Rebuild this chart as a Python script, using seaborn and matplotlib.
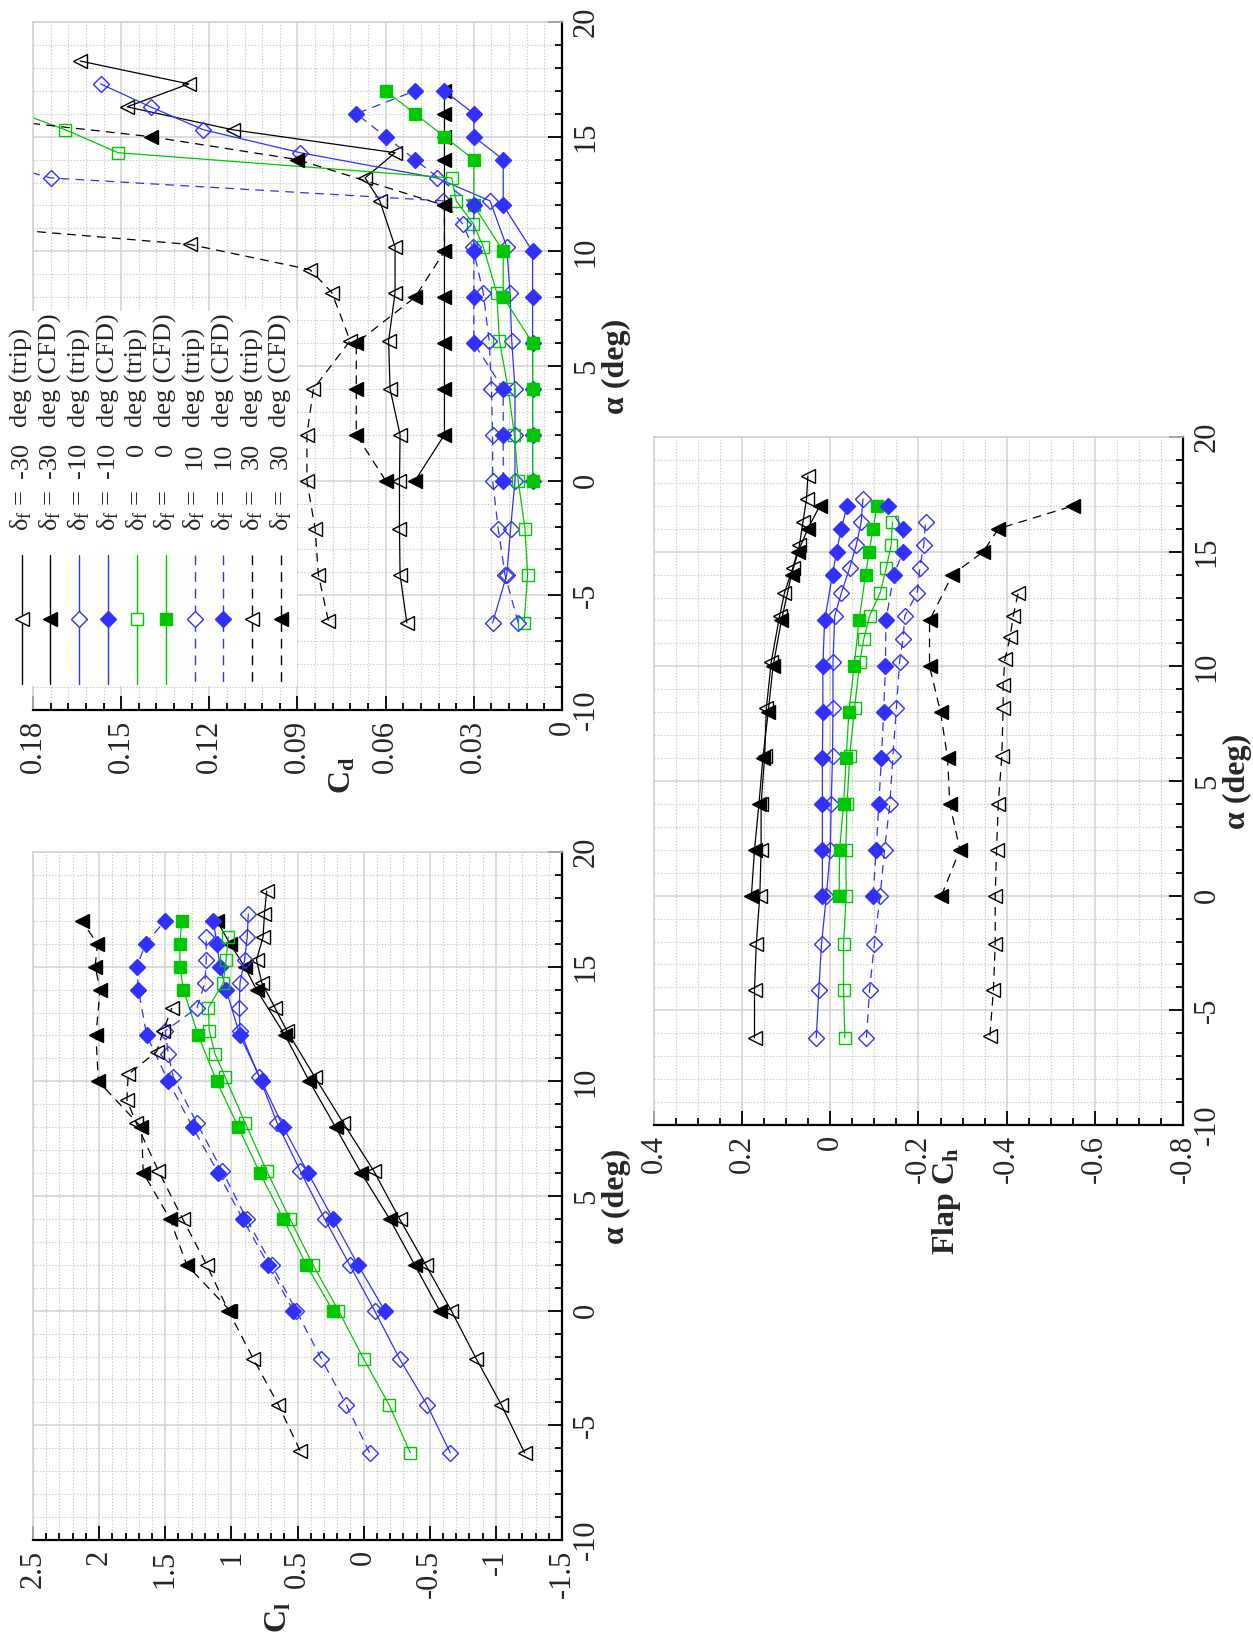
"""Rotated three-panel chart: lift, drag and flap hinge moment vs angle of attack."""

import matplotlib
matplotlib.use("Agg")
import matplotlib.pyplot as plt
import numpy as np
import seaborn as sns
from matplotlib.lines import Line2D
from matplotlib.patches import Rectangle

sns.set_theme(style="white")
plt.rcParams["font.family"] = ["Liberation Serif", "DejaVu Serif"]
plt.rcParams["mathtext.fontset"] = "custom"
plt.rcParams["mathtext.rm"] = "Liberation Serif"
plt.rcParams["mathtext.bf"] = "Liberation Serif:bold"
plt.rcParams["mathtext.it"] = "Liberation Serif:italic"
plt.rcParams["axes.unicode_minus"] = False

W, H = 1253, 1637

# ---- data -------------------------------------------------------------
alpha_cfd = [0, 2, 4, 6, 8, 10, 12, 14, 15, 16, 17]

cl_m30_cfd = [-0.575, -0.386, -0.197, 0.018, 0.212, 0.41, 0.594, 0.81, 0.90, 1.01, 1.11]
cd_m30_cfd = [0.05, 0.04, 0.04, 0.04, 0.04, 0.04, 0.04, 0.04, 0.04, 0.04, 0.04]
ch_m30_cfd = [0.179, 0.172, 0.162, 0.153, 0.141, 0.13, 0.111, 0.088, 0.073, 0.051, 0.024]

cl_m10_cfd = [-0.159, 0.043, 0.232, 0.42, 0.607, 0.771, 0.935, 1.04, 1.086, 1.11, 1.136]
cd_m10_cfd = [0.01, 0.01, 0.01, 0.01, 0.01, 0.01, 0.02, 0.02, 0.03, 0.03, 0.04]
ch_m10_cfd = [0.018, 0.018, 0.018, 0.018, 0.017, 0.017, 0.013, -0.005, -0.014, -0.025, -0.038]

cl_0_cfd = [0.232, 0.434, 0.607, 0.784, 0.947, 1.111, 1.25, 1.363, 1.389, 1.389, 1.376]
cd_0_cfd = [0.01, 0.01, 0.01, 0.01, 0.02, 0.02, 0.03, 0.03, 0.04, 0.05, 0.06]
ch_0_cfd = [-0.02, -0.021, -0.03, -0.036, -0.042, -0.054, -0.065, -0.08, -0.088, -0.097, -0.106]

cl_p10_cfd = [0.532, 0.72, 0.915, 1.099, 1.293, 1.477, 1.64, 1.703, 1.716, 1.648, 1.502]
cd_p10_cfd = [0.02, 0.02, 0.02, 0.03, 0.03, 0.03, 0.03, 0.05, 0.06, 0.07, 0.05]
ch_p10_cfd = [-0.097, -0.104, -0.11, -0.116, -0.121, -0.125, -0.126, -0.144, -0.165, -0.165, -0.131]

cl_p30_cfd = [1.01, 1.338, 1.464, 1.666, 1.68, 2.006, 2.024, 1.993, 2.03, 2.013, 2.132]
cd_p30_cfd = [0.06, 0.07, 0.07, 0.07, 0.05, 0.04, 0.04, 0.09, 0.14, 0.21, 0.25]
ch_p30_cfd = [-0.252, -0.294, -0.271, -0.266, -0.25, -0.225, -0.225, -0.277, -0.347, -0.381, -0.551]

alpha_m30_trip = [-6.2, -4.1, -2.1, 0, 2, 4, 6.1, 8.2, 10.2, 12.2, 13.2, 14.3, 15.3, 16.3, 17.3, 18.3]
cl_m30_trip = [-1.217, -1.041, -0.852, -0.663, -0.469, -0.272, -0.076, 0.156, 0.37, 0.58,
               0.67, 0.77, 0.81, 0.76, 0.75, 0.733]
cd_m30_trip = [0.0528, 0.0551, 0.0553, 0.0553, 0.0551, 0.0585, 0.059, 0.0568, 0.0568, 0.062,
               0.067, 0.0568, 0.112, 0.148, 0.127, 0.164]
ch_m30_trip = [0.172, 0.172, 0.168, 0.160, 0.157, 0.157, 0.149, 0.145, 0.134, 0.115,
               0.104, 0.085, 0.07, 0.062, 0.054, 0.051]

alpha_m10_trip = [-6.2, -4.1, -2.1, 0, 2, 4, 6.1, 8.2, 10.2, 12.2, 13.2, 14.3, 15.3, 16.3, 17.3]
cl_m10_trip = [-0.655, -0.479, -0.272, -0.083, 0.106, 0.295, 0.48, 0.655, 0.79, 0.935,
               0.94, 0.935, 0.90, 0.88, 0.872]
cd_m10_trip = [0.0236, 0.0188, 0.0175, 0.016, 0.016, 0.016, 0.0171, 0.0177, 0.0188, 0.0245,
               0.0426, 0.089, 0.122, 0.14, 0.157]
ch_m10_trip = [0.032, 0.026, 0.020, 0.009, 0.0, -0.002, -0.005, -0.006, -0.006, -0.01,
               -0.025, -0.044, -0.059, -0.07, -0.074]

alpha_0_trip = [-6.2, -4.1, -2.1, 0, 2, 4, 6.1, 8.2, 10.2, 11.2, 12.2, 13.2, 14.3, 15.3, 16.3]
cl_0_trip = [-0.353, -0.192, 0.0, 0.19, 0.383, 0.557, 0.733, 0.897, 1.048, 1.124,
             1.167, 1.174, 1.061, 1.04, 1.023]
cd_0_trip = [0.0129, 0.0117, 0.0126, 0.0149, 0.0162, 0.0183, 0.0213, 0.0222, 0.0268, 0.0302,
             0.036, 0.0375, 0.151, 0.169, 0.19]
ch_0_trip = [-0.033, -0.03, -0.03, -0.036, -0.035, -0.038, -0.044, -0.055, -0.067, -0.076,
             -0.089, -0.113, -0.127, -0.138, -0.141]

alpha_p10_trip = [-6.2, -4.1, -2.1, 0, 2, 4, 6.1, 8.2, 10.2, 11.2, 12.2, 13.2, 14.3, 15.3, 16.3]
cl_p10_trip = [-0.045, 0.131, 0.32, 0.51, 0.695, 0.885, 1.07, 1.263, 1.44, 1.477,
               1.50, 1.26, 1.20, 1.19, 1.19]
cd_p10_trip = [0.0149, 0.0194, 0.0217, 0.0236, 0.0236, 0.024, 0.0248, 0.0268, 0.0304, 0.0338,
               0.0404, 0.174, 0.205, 0.23, 0.25]
ch_p10_trip = [-0.082, -0.089, -0.1, -0.113, -0.123, -0.135, -0.142, -0.15, -0.157, -0.165,
               -0.169, -0.197, -0.203, -0.212, -0.216]

alpha_p30_trip = [-6.1, -4.1, -2.1, 0, 2, 4, 6.1, 8.2, 9.2, 10.3, 11.3, 12.2, 13.2]
cl_p30_trip = [0.481, 0.645, 0.834, 1.023, 1.187, 1.368, 1.552, 1.721, 1.79, 1.78, 1.565, 1.515, 1.45]
cd_p30_trip = [0.0795, 0.0829, 0.084, 0.0868, 0.0868, 0.0846, 0.0721, 0.0783, 0.0857, 0.1266,
               0.22, 0.25, 0.27]
ch_p30_trip = [-0.362, -0.37, -0.374, -0.374, -0.377, -0.381, -0.389, -0.392, -0.392, -0.396,
               -0.408, -0.415, -0.426]

legend_values = ["-30", "-30", "-10", "-10", "0", "0", "10", "10", "30", "30"]
legend_kinds = ["trip", "CFD"] * 5

# ---- styles -----------------------------------------------------------
BLACK, BLUE, GREEN = "#000000", "#3030FF", "#00C800"
DASH = (0, (7, 5))

series = [
    dict(alpha=alpha_m30_trip, cl=cl_m30_trip, cd=cd_m30_trip, ch=ch_m30_trip,
         color=BLACK, ls="-", marker="<", fill=False),
    dict(alpha=alpha_cfd, cl=cl_m30_cfd, cd=cd_m30_cfd, ch=ch_m30_cfd,
         color=BLACK, ls="-", marker="<", fill=True),
    dict(alpha=alpha_m10_trip, cl=cl_m10_trip, cd=cd_m10_trip, ch=ch_m10_trip,
         color=BLUE, ls="-", marker="D", fill=False),
    dict(alpha=alpha_cfd, cl=cl_m10_cfd, cd=cd_m10_cfd, ch=ch_m10_cfd,
         color=BLUE, ls="-", marker="D", fill=True),
    dict(alpha=alpha_0_trip, cl=cl_0_trip, cd=cd_0_trip, ch=ch_0_trip,
         color=GREEN, ls="-", marker="s", fill=False),
    dict(alpha=alpha_cfd, cl=cl_0_cfd, cd=cd_0_cfd, ch=ch_0_cfd,
         color=GREEN, ls="-", marker="s", fill=True),
    dict(alpha=alpha_p10_trip, cl=cl_p10_trip, cd=cd_p10_trip, ch=ch_p10_trip,
         color=BLUE, ls=DASH, marker="D", fill=False),
    dict(alpha=alpha_cfd, cl=cl_p10_cfd, cd=cd_p10_cfd, ch=ch_p10_cfd,
         color=BLUE, ls=DASH, marker="D", fill=True),
    dict(alpha=alpha_p30_trip, cl=cl_p30_trip, cd=cd_p30_trip, ch=ch_p30_trip,
         color=BLACK, ls=DASH, marker="<", fill=False),
    dict(alpha=alpha_cfd, cl=cl_p30_cfd, cd=cd_p30_cfd, ch=ch_p30_cfd,
         color=BLACK, ls=DASH, marker="<", fill=True),
]
MARKER_SIZE = {"<": 10.5, "D": 8.0, "s": 9.0}


def fx(px):
    return px / W


def fy(py):
    return 1 - py / H


def add_axes(left, top, width=529, height=688):
    return fig.add_axes([fx(left), fy(top + height), width / W, height / H])


def tick_text(v):
    v = 0.0 if abs(v) < 1e-9 else v
    return f"{v:g}"


def draw_series(ax, key):
    for s in series:
        sns.lineplot(
            x=s[key], y=s["alpha"], ax=ax, sort=False, estimator=None, legend=False,
            color=s["color"], linestyle=s["ls"], linewidth=0.9,
            marker=s["marker"], markersize=MARKER_SIZE[s["marker"]],
            markerfacecolor=s["color"] if s["fill"] else "none",
            markeredgecolor=s["color"], markeredgewidth=1.0,
        )


def style_axes(ax, lim, major, minor, xlabel, xlabel_pos):
    ax.set_xlim(lim[0], lim[1])
    ax.set_ylim(-10, 20)
    xt = np.round(np.arange(lim[1], lim[0] + major / 2, major), 3)
    ax.set_xticks(xt, labels=[tick_text(v) for v in xt], rotation=90, va="top", ha="center")
    ax.set_xticks(np.round(np.arange(lim[1], lim[0] + minor / 2, minor), 4), minor=True)
    yt = np.arange(-10, 21, 5)
    ax.yaxis.tick_right()
    ax.set_yticks(yt, labels=[tick_text(v) for v in yt], rotation=90, va="center", ha="left")
    ax.set_yticks(np.arange(-10, 21, 1), minor=True)
    ax.grid(which="major", color="#d2d2d2", linewidth=1.1, linestyle="-")
    ax.grid(which="minor", color="#c8c8c8", linewidth=0.8, linestyle=(0, (1.2, 1.6)))
    ax.set_axisbelow(True)
    ax.tick_params(which="both", direction="in", bottom=True, right=True, top=False,
                   left=False, color="black", width=1.3, labelsize=22)
    ax.tick_params(which="major", length=10, pad=7)
    ax.tick_params(which="minor", length=5)
    for side in ("top", "left"):
        ax.spines[side].set_color("#cfcfcf")
        ax.spines[side].set_linewidth(1.1)
    for side in ("bottom", "right"):
        ax.spines[side].set_color("black")
        ax.spines[side].set_linewidth(1.6)
    ax.set_xlabel(xlabel, fontsize=23, fontweight="bold", rotation=90, va="center", ha="center")
    ax.xaxis.set_label_coords(*xlabel_pos)
    ax.yaxis.set_label_position("right")
    ax.set_ylabel("α (deg)", fontsize=23, fontweight="bold", rotation=90,
                  va="center", ha="center")
    ax.yaxis.set_label_coords(1.102, 0.5)


fig = plt.figure(figsize=(W / 100, H / 100), dpi=100)

ax_cd = add_axes(33, 22)
ax_cl = add_axes(33, 852)
ax_ch = add_axes(654, 437)

draw_series(ax_cd, "cd")
draw_series(ax_cl, "cl")
draw_series(ax_ch, "ch")

style_axes(ax_cd, (0.18, 0.0), 0.03, 0.006, r"$\mathbf{C}_\mathbf{d}$", (0.585, -0.095))
style_axes(ax_cl, (2.5, -1.5), 0.5, 0.1, r"$\mathbf{C}_\mathbf{l}$", (0.465, -0.112))
style_axes(ax_ch, (0.4, -0.8), 0.2, 0.05, r"Flap $\mathbf{C}_\mathbf{h}$", (0.553, -0.11))

# ---- rotated legend drawn inside the drag panel -------------------------
fig.add_artist(Rectangle((fx(8), fy(686)), (297 - 8) / W, (686 - 311) / H,
                         transform=fig.transFigure, facecolor="white",
                         edgecolor="none", zorder=2))
for i, s in enumerate(series):
    x = 21.7 + i * 28.8
    fig.add_artist(Line2D([fx(x), fx(x)], [fy(555), fy(684)], transform=fig.transFigure,
                          color=s["color"], linestyle=s["ls"], linewidth=1.0, zorder=3))
    fig.add_artist(Line2D([fx(x)], [fy(619)], transform=fig.transFigure,
                          marker=s["marker"], markersize=MARKER_SIZE[s["marker"]],
                          markerfacecolor=s["color"] if s["fill"] else "white",
                          markeredgecolor=s["color"], markeredgewidth=1.0,
                          linestyle="none", zorder=4))
    common = dict(rotation=90, rotation_mode="anchor", va="center", fontsize=19, zorder=5)
    fig.text(fx(x), fy(531), r"δ$_\mathrm{f}$ =", ha="left", **common)
    fig.text(fx(x), fy(443), legend_values[i], ha="right", **common)
    fig.text(fx(x), fy(427), f"deg ({legend_kinds[i]})", ha="left", **common)

fig.savefig("out.png", dpi=100)
